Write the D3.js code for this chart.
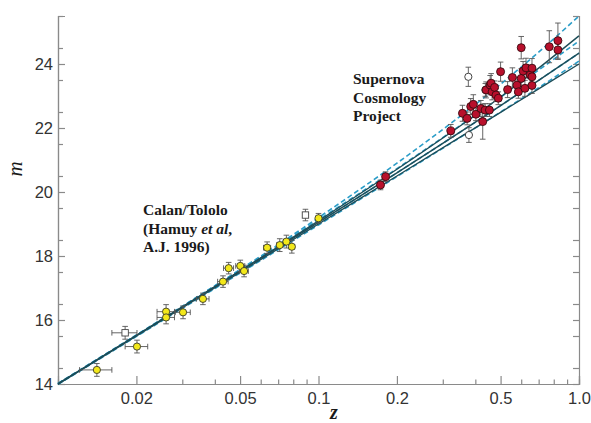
<!DOCTYPE html>
<html>
<head>
<meta charset="utf-8">
<script src="https://cdn.jsdelivr.net/npm/d3@7"></script>
<style>
  body { margin: 0; background: #fff; }
  .axis path, .axis line { stroke: #8a8a8a; stroke-width: 1.2; }
  .axis text { font-family: "Liberation Sans", Arial, sans-serif; font-size: 16.5px; fill: #333; }
  .label { font-family: "Liberation Serif", "Times New Roman", serif; font-weight: bold; font-size: 15.5px; fill: #1a1a1a; }
  .err { stroke: #555; stroke-width: 0.9; }
</style>
</head>
<body>
<div id="chart"></div>
<script>
var lineZ = [0.01, 0.1, 0.2, 0.5, 0.7, 1.0];
var solid00 = [14.01, 19.10, 20.71, 22.97, 23.87, 24.88];   // (0,0)
var solid10 = [14.00, 19.05, 20.60, 22.70, 23.49, 24.34];   // (1,0)
var solid20 = [13.99, 19.00, 20.50, 22.49, 23.22, 24.00];   // (2,0)
var dash01 = [14.02, 19.20, 20.90, 23.37, 24.37, 25.50];    // (0,1)
var dash55 = [14.01, 19.13, 20.73, 22.96, 23.81, 24.72];    // (0.5,0.5)
var dash10 = [14.00, 19.05, 20.60, 22.70, 23.49, 24.34];    // (1,0)
var dash15 = [13.99, 18.97, 20.48, 22.50, 23.26, 24.09];    // (1.5,-0.5)

// Calan/Tololo
var ctZ = [0.0141, 0.0201, 0.026, 0.026, 0.0302, 0.036, 0.043, 0.0452, 0.0501, 0.0518, 0.0635, 0.071, 0.0753, 0.079, 0.1];
var ctM = [14.44, 15.17, 16.26, 16.08, 16.24, 16.66, 17.20, 17.62, 17.69, 17.53, 18.26, 18.34, 18.45, 18.29, 19.18];
var ctErr = [0.2, 0.2, 0.22, 0.2, 0.2, 0.18, 0.18, 0.18, 0.18, 0.18, 0.18, 0.2, 0.2, 0.2, 0.15];
var ctZErr = 0.002;

// excluded low-z (open squares)
var ctOutZ = [0.0181, 0.0891];
var ctOutM = [15.60, 19.28];
var ctOutErr = [0.2, 0.18];

// Supernova Cosmology Project
var scpZ = [0.173, 0.181, 0.322, 0.357, 0.372, 0.384, 0.393, 0.402, 0.420, 0.427, 0.436, 0.453, 0.440, 0.456, 0.460,
            0.464, 0.474, 0.480, 0.490, 0.500, 0.532, 0.555, 0.578, 0.585, 0.600, 0.600, 0.610, 0.620, 0.626,
            0.650, 0.660, 0.660, 0.660, 0.769, 0.830, 0.830];
var scpM = [20.22, 20.48, 21.91, 22.46, 22.30, 22.67, 22.74, 22.43, 22.61, 22.20, 22.56, 22.56, 23.19, 23.34, 23.40,
            23.13, 23.27, 23.03, 22.93, 23.76, 23.20, 23.58, 23.34, 23.13, 23.55, 24.51, 23.78, 23.24, 23.88,
            23.66, 23.87, 23.60, 23.33, 24.54, 24.73, 24.44];
var scpErr = [0.15, 0.15, 0.2, 0.25, 0.2, 0.25, 0.3, 0.2, 0.25, 0.55, 0.2, 0.2, 0.25, 0.3, 0.3,
              0.25, 0.2, 0.2, 0.2, 0.3, 0.25, 0.3, 0.25, 0.2, 0.3, 0.35, 0.3, 0.25, 0.3,
              0.3, 0.3, 0.25, 0.25, 0.5, 0.55, 0.3];

// excluded high-z (open circles)
var scpOutZ = [0.376, 0.378, 0.437];
var scpOutM = [23.60, 21.78, 23.19];
var scpOutErr = [0.3, 0.23, 0.2];

var xMajor = [0.02, 0.05, 0.1, 0.2, 0.5, 1.0];
var xMajorLabels = ['0.02', '0.05', '0.1', '0.2', '0.5', '1.0'];
var xMinor = [0.03, 0.04, 0.06, 0.07, 0.08, 0.09, 0.3, 0.4, 0.6, 0.7, 0.8, 0.9];
var yMajor = [14, 16, 18, 20, 22, 24];
var yMinor = d3.range(14.5, 25.6, 1);

var margin = {top: 16, right: 12, bottom: 39, left: 58};
var width = 591, height = 423;
var chartWidth = width - margin.left - margin.right;
var chartHeight = height - margin.top - margin.bottom;

var svg = d3.select('#chart').append('svg')
    .attr('width', width)
    .attr('height', height);

var g = svg.append('g')
    .attr('transform', `translate(${margin.left}, ${margin.top})`);

var x = d3.scaleLog().domain([0.01, 1.0]).range([0, chartWidth]);
var y = d3.scaleLinear().domain([14, 25.5]).range([chartHeight, 0]);

// axes, ticks point inward
g.append('g').attr('class', 'axis')
    .attr('transform', `translate(0, ${chartHeight})`)
    .call(d3.axisBottom(x).tickValues(xMinor).tickSize(-4.5).tickFormat(''));
g.append('g').attr('class', 'axis')
    .attr('transform', `translate(0, ${chartHeight})`)
    .call(d3.axisBottom(x).tickValues(xMajor).tickSize(-8).tickPadding(8)
        .tickFormat((d, i) => xMajorLabels[i]));

g.append('g').attr('class', 'axis')
    .call(d3.axisLeft(y).tickValues(yMinor).tickSize(-5).tickFormat(''));
g.append('g').attr('class', 'axis')
    .call(d3.axisLeft(y).tickValues(yMajor).tickSize(-7).tickPadding(5).tickFormat(d3.format('d')));

g.append('g').attr('class', 'axis')
    .attr('transform', `translate(${chartWidth}, 0)`)
    .call(d3.axisRight(y).tickValues(yMinor.concat(yMajor)).tickSize(-6).tickFormat(''));

// model curves
var line = d3.line()
    .x(d => x(d[0]))
    .y(d => y(d[1]))
    .curve(d3.curveMonotoneX);

var dashed = [dash01, dash55, dash10, dash15];
var solids = [solid00, solid10, solid20];

g.selectAll('.dash')
    .data(dashed)
    .enter().append('path')
    .attr('class', 'dash')
    .attr('d', d => line(lineZ.map((z, i) => [z, d[i]])))
    .attr('fill', 'none')
    .attr('stroke', '#2b9dc8')
    .attr('stroke-width', 1.6)
    .attr('stroke-dasharray', '5,3');

g.selectAll('.solid')
    .data(solids)
    .enter().append('path')
    .attr('class', 'solid')
    .attr('d', d => line(lineZ.map((z, i) => [z, d[i]])))
    .attr('fill', 'none')
    .attr('stroke', '#1d4d58')
    .attr('stroke-width', 1.4);

function toPts(zs, ms, errs, zerr) {
    return zs.map((z, i) => ({z: z, m: ms[i], e: errs[i], dz: zerr || 0}));
}

var ct = toPts(ctZ, ctM, ctErr, ctZErr);
var ctOut = toPts(ctOutZ, ctOutM, ctOutErr, ctZErr);
var scp = toPts(scpZ, scpM, scpErr);
var scpOut = toPts(scpOutZ, scpOutM, scpOutErr);

// error bars with caps
function errorBars(data) {
    var cap = 2.8;
    var eb = g.append('g');
    data.forEach(function(d) {
        var cx = x(d.z), y0 = y(d.m - d.e), y1 = y(d.m + d.e);
        eb.append('line').attr('class', 'err').attr('x1', cx).attr('x2', cx).attr('y1', y0).attr('y2', y1);
        eb.append('line').attr('class', 'err').attr('x1', cx - cap).attr('x2', cx + cap).attr('y1', y0).attr('y2', y0);
        eb.append('line').attr('class', 'err').attr('x1', cx - cap).attr('x2', cx + cap).attr('y1', y1).attr('y2', y1);
        if (d.dz) {
            var xa = x(d.z - d.dz), xb = x(d.z + d.dz), cy = y(d.m);
            eb.append('line').attr('class', 'err').attr('x1', xa).attr('x2', xb).attr('y1', cy).attr('y2', cy);
            eb.append('line').attr('class', 'err').attr('x1', xa).attr('x2', xa).attr('y1', cy - cap).attr('y2', cy + cap);
            eb.append('line').attr('class', 'err').attr('x1', xb).attr('x2', xb).attr('y1', cy - cap).attr('y2', cy + cap);
        }
    });
}
errorBars(ct.concat(ctOut, scp, scpOut));

// points
g.selectAll('.ct')
    .data(ct)
    .enter().append('circle')
    .attr('cx', d => x(d.z))
    .attr('cy', d => y(d.m))
    .attr('r', 3.6)
    .attr('fill', '#f3e81a')
    .attr('stroke', '#3a3a2a')
    .attr('stroke-width', 0.9);

g.selectAll('.ctout')
    .data(ctOut)
    .enter().append('rect')
    .attr('x', d => x(d.z) - 3.2)
    .attr('y', d => y(d.m) - 3.2)
    .attr('width', 6.4)
    .attr('height', 6.4)
    .attr('fill', '#fff')
    .attr('stroke', '#444')
    .attr('stroke-width', 0.9);

g.selectAll('.scpout')
    .data(scpOut)
    .enter().append('circle')
    .attr('cx', d => x(d.z))
    .attr('cy', d => y(d.m))
    .attr('r', 3.6)
    .attr('fill', '#fff')
    .attr('stroke', '#444')
    .attr('stroke-width', 1);

g.selectAll('.scp')
    .data(scp)
    .enter().append('circle')
    .attr('cx', d => x(d.z))
    .attr('cy', d => y(d.m))
    .attr('r', 4)
    .attr('fill', '#b8102c')
    .attr('stroke', '#3a0a10')
    .attr('stroke-width', 0.9);

// annotations
var scpLabel = svg.append('text').attr('class', 'label').attr('x', 353).attr('y', 84);
['Supernova', 'Cosmology', 'Project'].forEach(function(t, i) {
    scpLabel.append('tspan').attr('x', 353).attr('dy', i ? 18.7 : 0).text(t);
});

var ctLabel = svg.append('text').attr('class', 'label').attr('x', 143).attr('y', 215);
ctLabel.append('tspan').attr('x', 143).text('Calan/Tololo');
var l2 = ctLabel.append('tspan').attr('x', 143).attr('dy', 18.5);
l2.append('tspan').text('(Hamuy ');
l2.append('tspan').attr('font-style', 'italic').text('et al');
l2.append('tspan').text(',');
ctLabel.append('tspan').attr('x', 143).attr('dy', 18.5).text('A.J. 1996)');

// axis titles
svg.append('text')
    .attr('transform', 'translate(22, 169) rotate(-90)')
    .attr('text-anchor', 'middle')
    .attr('font-family', '"Liberation Serif", serif')
    .attr('font-style', 'italic')
    .attr('font-size', 21)
    .attr('fill', '#1a1a1a')
    .text('m');

svg.append('text')
    .attr('x', 334)
    .attr('y', 419)
    .attr('text-anchor', 'middle')
    .attr('font-family', '"Liberation Serif", serif')
    .attr('font-style', 'italic')
    .attr('font-weight', 'bold')
    .attr('font-size', 20)
    .attr('fill', '#1a1a1a')
    .text('z');
</script>
</body>
</html>
